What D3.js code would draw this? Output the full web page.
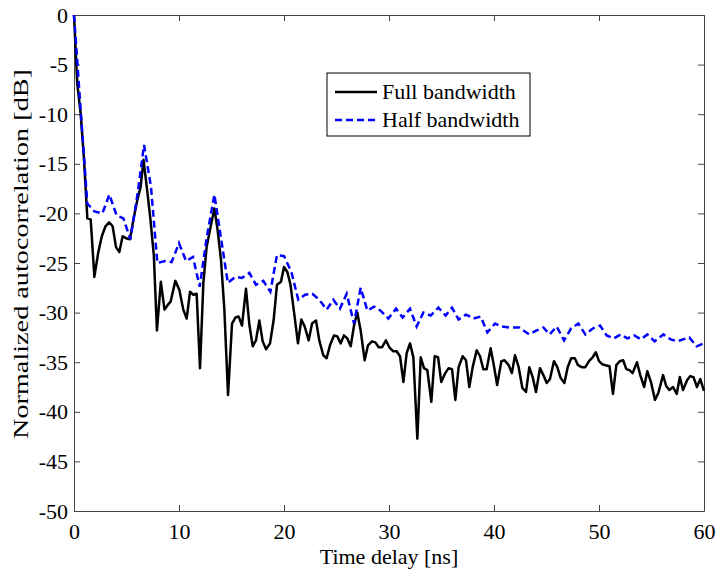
<!DOCTYPE html>
<html>
<head>
<meta charset="utf-8">
<script src="https://cdn.jsdelivr.net/npm/d3@7"></script>
<style>
  body { margin: 0; background: #fff; }
  text { font-family: "Liberation Serif", "Times New Roman", serif; }
</style>
</head>
<body>
<div id="chart"></div>
<script>
// Full bandwidth: [time delay ns, dB]
const fullBandwidth = [
    [0, 0], [0.31, -6.9], [0.63, -9.9], [0.95, -14.5], [1.27, -20.5], [1.59, -20.6],
    [1.94, -26.4], [2.3, -24.0], [2.65, -22.3], [3.0, -21.3], [3.35, -20.9], [3.68, -21.3],
    [4.0, -23.4], [4.32, -23.9], [4.63, -22.3], [4.95, -22.5], [5.33, -22.6], [5.68, -20.5],
    [6.0, -18.8], [6.35, -17.3], [6.62, -14.6], [6.95, -17.5], [7.28, -20.6], [7.6, -24.2],
    [7.9, -31.8], [8.27, -26.9], [8.62, -29.7], [8.95, -29.2], [9.2, -28.9], [9.65, -26.8],
    [10.03, -27.7], [10.41, -29.7], [10.73, -30.6], [11.05, -27.9], [11.37, -28.2], [11.68, -28.1],
    [12.0, -35.6], [12.32, -27.0], [12.63, -23.4], [13.02, -21.3], [13.37, -19.5], [13.68, -21.7],
    [14.0, -24.7], [14.32, -29.7], [14.67, -38.3], [15.05, -31.1], [15.37, -30.5], [15.68, -30.4],
    [16.0, -31.3], [16.38, -27.6], [16.7, -31.2], [17.02, -33.4], [17.33, -32.8], [17.65, -30.8],
    [17.97, -32.9], [18.29, -33.7], [18.67, -33.1], [19.02, -30.7], [19.33, -27.2], [19.71, -26.9],
    [20.0, -25.4], [20.32, -25.9], [20.62, -27.2], [20.95, -29.9], [21.33, -33.1], [21.65, -30.7],
    [21.97, -31.4], [22.35, -32.8], [22.67, -31.1], [23.05, -30.8], [23.36, -32.8], [23.74, -34.3],
    [24.06, -34.6], [24.38, -33.3], [24.76, -32.3], [25.08, -32.4], [25.4, -33.1], [25.71, -32.3],
    [26.03, -32.6], [26.35, -33.4], [26.67, -31.3], [26.98, -30.0], [27.3, -31.8], [27.68, -34.8],
    [28.0, -33.3], [28.38, -32.9], [28.7, -33.0], [29.02, -33.5], [29.33, -33.5], [29.71, -32.8],
    [30.03, -33.5], [30.41, -33.9], [30.73, -33.9], [31.05, -34.4], [31.37, -37.0], [31.68, -34.1],
    [32.0, -33.1], [32.32, -34.5], [32.7, -42.7], [33.02, -34.5], [33.33, -35.6], [33.65, -35.8],
    [34.03, -39.0], [34.35, -34.4], [34.67, -34.5], [34.98, -37.0], [35.36, -36.1], [35.68, -35.6],
    [36.0, -35.7], [36.32, -38.8], [36.63, -35.5], [37.02, -34.4], [37.33, -34.8], [37.65, -37.5],
    [37.97, -35.5], [38.35, -33.8], [38.67, -34.4], [38.98, -35.7], [39.3, -35.7], [39.68, -33.6],
    [40.0, -35.4], [40.3, -37.3], [40.7, -34.9], [41.0, -34.8], [41.4, -35.3], [41.7, -36.1],
    [42.0, -34.3], [42.35, -35.5], [42.7, -37.6], [43.05, -38.0], [43.36, -35.5], [43.68, -36.5],
    [44.0, -38.0], [44.38, -35.6], [44.7, -36.3], [45.02, -37.1], [45.33, -36.7], [45.71, -34.9],
    [46.03, -35.5], [46.35, -36.6], [46.7, -37.1], [47.02, -35.5], [47.35, -34.6], [47.7, -34.6],
    [48.0, -35.3], [48.35, -35.5], [48.7, -35.5], [49.05, -34.9], [49.4, -34.5], [49.7, -34.0],
    [50.0, -34.9], [50.3, -35.2], [50.6, -35.3], [51.0, -35.4], [51.33, -38.2], [51.65, -35.3],
    [51.97, -34.9], [52.3, -34.8], [52.6, -35.7], [52.9, -35.8], [53.2, -36.1], [53.62, -35.0],
    [53.93, -36.3], [54.3, -37.5], [54.6, -35.9], [54.95, -37.0], [55.33, -38.8], [55.65, -38.1],
    [56.1, -36.3], [56.4, -37.4], [56.7, -37.8], [57.05, -37.5], [57.4, -38.2], [57.7, -36.5],
    [58.0, -37.8], [58.4, -36.8], [58.7, -36.4], [59.0, -36.5], [59.33, -37.5], [59.65, -36.7],
    [60.0, -37.9]
];

// Half bandwidth: [time delay ns, dB]
const halfBandwidth = [
    [0, 0], [0.63, -9.5], [1.27, -19.0], [1.94, -19.8], [2.7, -20.0], [3.37, -18.1],
    [4.06, -20.2], [4.7, -20.5], [5.37, -22.6], [6.06, -18.0], [6.67, -13.1], [7.33, -17.3],
    [7.94, -25.0], [8.67, -24.8], [9.3, -24.9], [10.0, -23.0], [10.67, -24.8], [11.33, -24.4],
    [11.97, -27.4], [12.63, -22.5], [13.37, -18.1], [14.0, -22.5], [14.65, -27.0], [15.37, -26.4],
    [16.0, -26.5], [16.7, -26.0], [17.33, -27.2], [18.03, -26.8], [18.7, -27.9], [19.33, -24.2],
    [20.0, -24.3], [20.7, -25.9], [21.36, -28.7], [22.0, -28.2], [22.7, -28.1], [23.36, -28.7],
    [24.06, -29.7], [24.7, -28.7], [25.33, -29.6], [25.97, -28.1], [26.67, -31.1], [27.3, -27.5],
    [27.94, -29.8], [28.57, -29.4], [29.2, -29.8], [29.94, -30.6], [30.67, -29.6], [31.3, -30.5],
    [32.0, -29.6], [32.63, -31.4], [33.27, -30.0], [33.97, -30.3], [34.7, -29.5], [35.4, -30.3],
    [36.0, -29.5], [36.63, -30.7], [37.33, -30.2], [38.06, -30.6], [38.73, -30.4], [39.37, -32.0],
    [40.1, -31.1], [40.73, -31.4], [41.5, -31.5], [42.4, -31.5], [43.36, -32.2], [44.06, -31.8],
    [44.7, -31.5], [45.3, -32.2], [45.97, -31.4], [46.67, -32.8], [47.35, -31.6], [48.03, -31.1],
    [48.7, -32.2], [49.4, -31.6], [50.1, -31.3], [50.73, -32.3], [51.4, -32.6], [52.06, -32.2],
    [52.7, -32.6], [53.35, -32.3], [54.0, -32.7], [54.6, -32.2], [55.3, -32.9], [56.13, -32.2],
    [56.83, -32.7], [57.46, -32.9], [58.0, -32.7], [58.6, -32.5], [59.3, -33.4], [60.0, -33.1]
];

const xTicks = [0, 10, 20, 30, 40, 50, 60];
const yTicks = [0, -5, -10, -15, -20, -25, -30, -35, -40, -45, -50];
const seriesNames = ["Full bandwidth", "Half bandwidth"];

(function () {
    // Set the dimensions and margins of the graph
    const margin = { top: 15, right: 15, bottom: 61, left: 74 },
        width = 719 - margin.left - margin.right,
        height = 572 - margin.top - margin.bottom;

    const svg = d3
        .select("#chart")
        .append("svg")
        .attr("width", width + margin.left + margin.right)
        .attr("height", height + margin.top + margin.bottom)
        .append("g")
        .attr("transform", `translate(${margin.left},${margin.top})`);

    const x = d3.scaleLinear().domain([0, 60]).range([0, width]);
    const y = d3.scaleLinear().domain([-50, 0]).range([height, 0]);

    const fmt = (d) => String(d);
    const axisColor = "#444";

    // Axes, ticks inward on all four sides (matlab style)
    const gx = svg.append("g")
        .attr("transform", `translate(0,${height})`)
        .call(d3.axisBottom(x).tickValues(xTicks).tickFormat(fmt).tickSizeInner(-6).tickSizeOuter(0).tickPadding(12));
    const gy = svg.append("g")
        .call(d3.axisLeft(y).tickValues(yTicks).tickFormat(fmt).tickSizeInner(-6).tickSizeOuter(0).tickPadding(6));
    const gxTop = svg.append("g")
        .call(d3.axisTop(x).tickValues(xTicks).tickFormat("").tickSizeInner(-6).tickSizeOuter(0));
    const gyRight = svg.append("g")
        .attr("transform", `translate(${width},0)`)
        .call(d3.axisRight(y).tickValues(yTicks).tickFormat("").tickSizeInner(-6).tickSizeOuter(0));

    [gx, gy, gxTop, gyRight].forEach(function (g) {
        g.selectAll("path, line").attr("stroke", axisColor);
        g.selectAll("text")
            .attr("fill", "#000")
            .style("font-family", '"Liberation Serif", serif')
            .style("font-size", "22px");
    });

    // X-axis label
    svg.append("text")
        .attr("text-anchor", "middle")
        .attr("x", width / 2)
        .attr("y", 564 - margin.top)
        .style("font-size", "22px")
        .text("Time delay [ns]");

    // Y-axis label (stretched along its length like the reference)
    svg.append("text")
        .attr("text-anchor", "middle")
        .attr("transform", "rotate(-90)")
        .attr("x", -(254 - margin.top))
        .attr("y", 28 - margin.left)
        .attr("textLength", 370)
        .attr("lengthAdjust", "spacingAndGlyphs")
        .style("font-size", "22px")
        .text("Normalized autocorrelation [dB]");

    const line = d3.line()
        .x(function (d) { return x(d[0]); })
        .y(function (d) { return y(d[1]); });

    // Full bandwidth line
    svg.append("path")
        .datum(fullBandwidth)
        .attr("fill", "none")
        .attr("stroke", "#000")
        .attr("stroke-width", 2.5)
        .attr("stroke-linejoin", "round")
        .attr("d", line);

    // Half bandwidth line
    svg.append("path")
        .datum(halfBandwidth)
        .attr("fill", "none")
        .attr("stroke", "#0000ff")
        .attr("stroke-width", 2.5)
        .attr("stroke-dasharray", "7,4")
        .attr("d", line);

    // Legend
    const legend = svg.append("g")
        .attr("transform", `translate(${327 - margin.left},${73 - margin.top})`);
    legend.append("rect")
        .attr("width", 203)
        .attr("height", 63)
        .attr("fill", "#fff")
        .attr("stroke", "#000")
        .attr("stroke-width", 1);

    const styles = [
        { color: "#000", dash: null },
        { color: "#0000ff", dash: "7,4" }
    ];
    seriesNames.forEach(function (name, i) {
        const yy = 19 + i * 28;
        legend.append("line")
            .attr("x1", 8).attr("x2", 50)
            .attr("y1", yy).attr("y2", yy)
            .attr("stroke", styles[i].color)
            .attr("stroke-width", 2.5)
            .attr("stroke-dasharray", styles[i].dash);
        legend.append("text")
            .attr("x", 55)
            .attr("y", yy + 7)
            .style("font-size", "22px")
            .text(name);
    });
})();
</script>
</body>
</html>
